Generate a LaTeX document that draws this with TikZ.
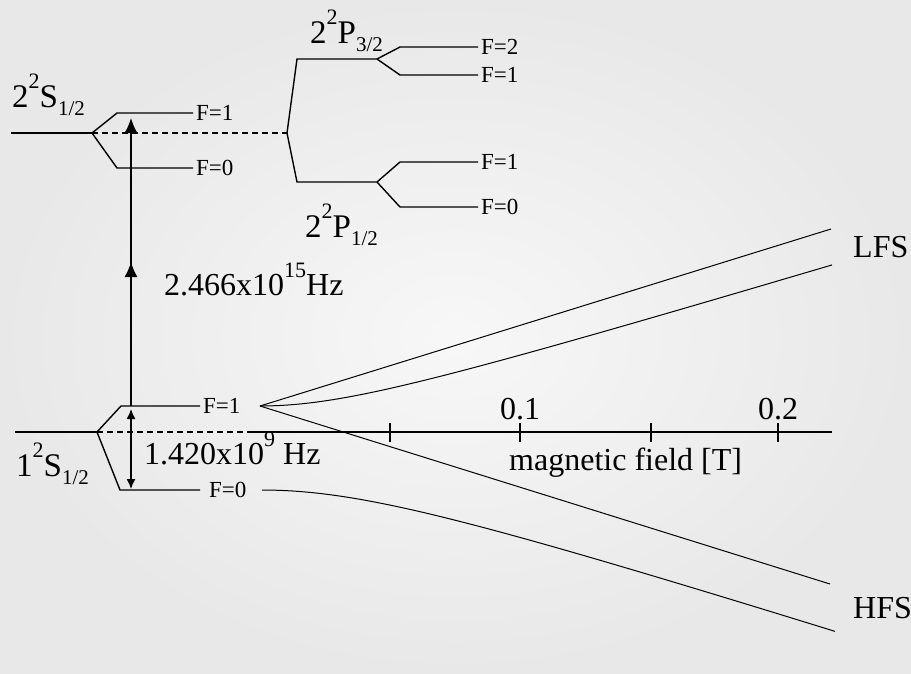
\documentclass[tikz,border=0pt]{standalone}
\usepackage{fontspec}
\setmainfont{Liberation Serif}
\usetikzlibrary{arrows.meta}

\newcommand{\upsc}[1]{\raisebox{0.55em}{\fontsize{22}{22}\selectfont #1}}
\newcommand{\dnsc}[1]{\raisebox{-0.27em}{\fontsize{21}{21}\selectfont #1}}
\newcommand{\termsym}[3]{#1\upsc{2}#2\dnsc{#3}}

\begin{document}
\begin{tikzpicture}[x=1pt,y=-1pt,
  level/.style={line width=1.4pt},
  zeeman/.style={line width=1pt},
  flabel/.style={right,inner sep=2.5pt,font=\fontsize{23}{26}\selectfont},
  term/.style={anchor=base west,inner sep=0pt,font=\fontsize{33}{38}\selectfont},
  big/.style={inner sep=0pt,font=\fontsize{32}{37}\selectfont},
  tip/.style={-{Latex[length=15pt,width=13pt]}}]
\shade [inner color=black!3, outer color=black!9] (0,0) rectangle (911,673);
\useasboundingbox (0,0) rectangle (911,673);
\draw [level] (11,133) coordinate (s2l) -- (92,133) coordinate (s2c);
\draw [level] (s2c) -- (117,113) -- (193,113) node [flabel] (s2f1) {F=1};
\draw [level] (s2c) -- (117,168) -- (193,168) node [flabel] (s2f0) {F=0};
\draw [level, dash pattern=on 6pt off 4pt] (s2c) -- (287,133) coordinate (pc);
\draw [level] (pc) -- (297,59) -- (377,59) coordinate (p32);
\draw [level] (pc) -- (297,182) -- (377,182) coordinate (p12);
\draw [level] (p32) -- (400,47) -- (478,47) node [flabel] (p32f2) {F=2};
\draw [level] (p32) -- (400,75) -- (478,75) node [flabel] (p32f1) {F=1};
\draw [level] (p12) -- (400,162) -- (478,162) node [flabel] (p12f1) {F=1};
\draw [level] (p12) -- (400,207) -- (478,207) node [flabel] (p12f0) {F=0};
\node [term] (s2lab) at (12,107) {\termsym{2}{S}{1/2}};
\node [term] (p32lab) at (310,43) {\termsym{2}{P}{3/2}};
\node [term] (p12lab) at (305,237) {\termsym{2}{P}{1/2}};
\draw [level] (15,432) coordinate (s1l) -- (97,432) coordinate (s1c);
\draw [level] (s1c) -- (121,406) coordinate (s1a) -- (200,406) node [flabel] (s1f1) {F=1};
\draw [level] (s1c) -- (120,490) coordinate (s1b) -- (200,490) node [flabel, xshift=6pt] (s1f0) {F=0};
\draw [level, dash pattern=on 6pt off 4pt] (s1c) -- (253,432) coordinate (ax0);
\draw [level] (ax0) -- (832,432) coordinate (ax1);
\foreach \t in {390,520,651,778}
  \draw [level] (\t,423) -- (\t,442);
\node [big, anchor=base] (b1) at (520,419) {0.1};
\node [big, anchor=base] (b2) at (778,419) {0.2};
\node [big, anchor=base west] (blab) at (509,470) {magnetic field [T]};
\node [term] (s1lab) at (16,476) {\termsym{1}{S}{1/2}};
\coordinate (o1) at (131,406);
\draw [level, tip] (o1) -- (131,118) coordinate (o2);
\draw [level, tip] (o1) -- (131,262);
\draw [level, {Latex[length=10pt,width=9pt]}-{Latex[length=10pt,width=9pt]}] (131,409) -- (131,489);
\node [big, anchor=base west] (nu1) at (164,295) {2.466x10\upsc{15}Hz};
\node [big, anchor=base west] (nu2) at (144,464) {1.420x10\upsc{9} Hz};
\coordinate (z1) at (260,406);
\coordinate (z0) at (262,490);
\draw [zeeman] (z1) -- (831,229) coordinate (lfs1);
\draw [zeeman] (z1) plot [domain=0:572, samples=60] ({260+\x},{441-10*sqrt(3.5^2+(0.03016*\x)^2)}) coordinate (lfs2);
\draw [zeeman] (z1) -- (830,584) coordinate (hfs1);
\draw [zeeman] (z0) plot [domain=0:573, samples=60] ({262+\x},{442+10*sqrt(4.8^2+(0.03196*\x)^2)}) coordinate (hfs2);
\node [big, anchor=base west] (lfs) at (853,257) {LFS};
\node [big, anchor=base west] (hfs) at (853,618) {HFS};
\end{tikzpicture}
\end{document}
